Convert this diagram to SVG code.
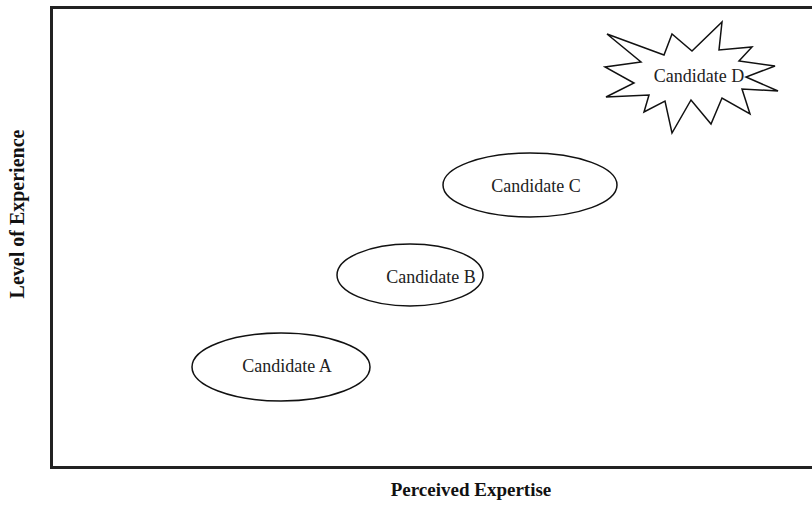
<svg xmlns="http://www.w3.org/2000/svg" width="812" height="505" viewBox="0 0 812 505">
<style>
.node{fill:#fff;stroke:#111;stroke-width:1.5}
.lbl{font-family:"Liberation Serif","Times New Roman",serif;font-size:18px;fill:#222}
.axis{font-family:"Liberation Serif","Times New Roman",serif;font-size:19px;font-weight:bold;fill:#111}
</style>
<rect x="0" y="0" width="812" height="505" fill="#fff"/>
<g id="frame">
<rect x="51.5" y="7.5" width="800" height="460" fill="none" stroke="#222" stroke-width="3"/>
</g>
<g id="connectors"></g>
<g id="candidate-a">
<ellipse class="node" cx="281" cy="367" rx="89" ry="34"/>
<text class="lbl" x="287" y="372" text-anchor="middle">Candidate A</text>
</g>
<g id="candidate-b">
<ellipse class="node" cx="410" cy="275" rx="73" ry="31"/>
<text class="lbl" x="431" y="283" text-anchor="middle">Candidate B</text>
</g>
<g id="candidate-c">
<ellipse class="node" cx="530" cy="185" rx="87" ry="32"/>
<text class="lbl" x="536" y="192" text-anchor="middle">Candidate C</text>
</g>
<g id="candidate-d">
<polygon class="node" points="607,34 664,55 672,34 692,51 722,22 719,50 752,47 739,61 775,66 746,77 778,91 742,89 750,114 722,98 711,124 691,100 672,133 665,101 644,112 649,95 606,97 634,83 605,67 641,62"/>
<text class="lbl" x="699" y="82" text-anchor="middle">Candidate D</text>
</g>
<g id="axes-labels">
<text class="axis" x="471" y="496" text-anchor="middle">Perceived Expertise</text>
<text class="axis" transform="translate(24,214) rotate(-90)" text-anchor="middle" style="font-size:20px">Level of Experience</text>
</g>
</svg>
